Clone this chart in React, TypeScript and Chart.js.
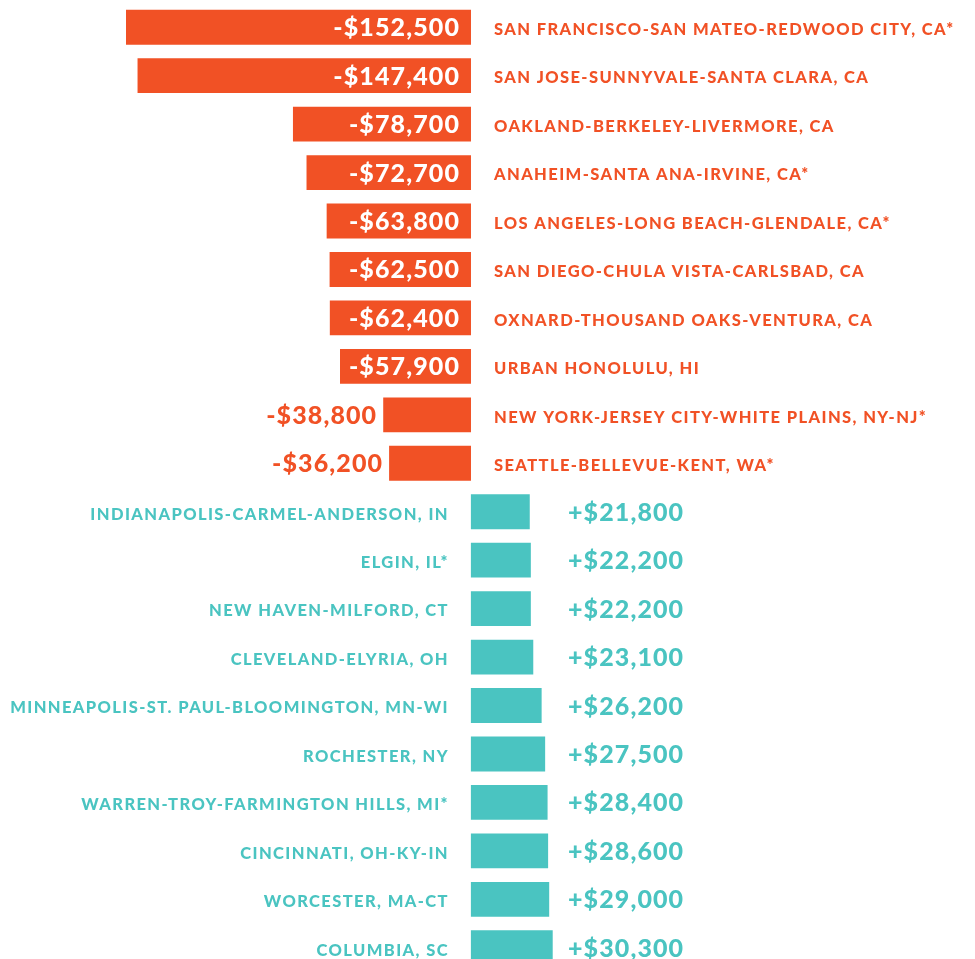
import React, { useEffect, useRef } from "react";
import { Chart, registerables } from "chart.js";

Chart.register(...registerables);

const categories = [
  "SAN FRANCISCO-SAN MATEO-REDWOOD CITY, CA*",
  "SAN JOSE-SUNNYVALE-SANTA CLARA, CA",
  "OAKLAND-BERKELEY-LIVERMORE, CA",
  "ANAHEIM-SANTA ANA-IRVINE, CA*",
  "LOS ANGELES-LONG BEACH-GLENDALE, CA*",
  "SAN DIEGO-CHULA VISTA-CARLSBAD, CA",
  "OXNARD-THOUSAND OAKS-VENTURA, CA",
  "URBAN HONOLULU, HI",
  "NEW YORK-JERSEY CITY-WHITE PLAINS, NY-NJ*",
  "SEATTLE-BELLEVUE-KENT, WA*",
  "INDIANAPOLIS-CARMEL-ANDERSON, IN",
  "ELGIN, IL*",
  "NEW HAVEN-MILFORD, CT",
  "CLEVELAND-ELYRIA, OH",
  "MINNEAPOLIS-ST. PAUL-BLOOMINGTON, MN-WI",
  "ROCHESTER, NY",
  "WARREN-TROY-FARMINGTON HILLS, MI*",
  "CINCINNATI, OH-KY-IN",
  "WORCESTER, MA-CT",
  "COLUMBIA, SC",
];

const values = [
  -152500, -147400, -78700, -72700, -63800, -62500, -62400, -57900, -38800, -36200,
  21800, 22200, 22200, 23100, 26200, 27500, 28400, 28600, 29000, 30300,
];

const negativeValues = values.map((v) => (v < 0 ? v : null));
const positiveValues = values.map((v) => (v > 0 ? v : null));

const ORANGE = "#F15125";
const TEAL = "#4AC4C1";
const FONT = "Lato, 'Open Sans', sans-serif";

function formatValue(v: number): string {
  return (v < 0 ? "-$" : "+$") + Math.abs(v).toLocaleString("en-US");
}

const labelPlugin = {
  id: "barLabels",
  afterDatasetsDraw(chart: any) {
    const ctx = chart.ctx as CanvasRenderingContext2D;
    const zeroX = chart.scales.x.getPixelForValue(0);
    ctx.save();
    ctx.textBaseline = "alphabetic";
    values.forEach((v, i) => {
      const dsIndex = v < 0 ? 0 : 1;
      const bar: any = chart.getDatasetMeta(dsIndex).data[i];
      if (!bar) return;
      const y = bar.y;
      const label = categories[i];
      const text = formatValue(v);
      // category label
      ctx.font = `900 16.5px ${FONT}`;
      (ctx as any).letterSpacing = "1.4px";
      if (v < 0) {
        ctx.fillStyle = ORANGE;
        ctx.textAlign = "left";
        ctx.fillText(label, zeroX + 23, y + 7.8);
      } else {
        ctx.fillStyle = TEAL;
        ctx.textAlign = "right";
        ctx.fillText(label, zeroX - 22, y + 7.8);
      }
      // value label
      ctx.font = `900 25px ${FONT}`;
      (ctx as any).letterSpacing = "1.1px";
      const w = ctx.measureText(text).width;
      if (v < 0) {
        const barLen = zeroX - bar.x;
        if (barLen > w + 12) {
          ctx.fillStyle = "#FFFFFF";
          ctx.textAlign = "right";
          ctx.fillText(text, zeroX - 11, y + 9);
        } else {
          ctx.fillStyle = ORANGE;
          ctx.textAlign = "right";
          ctx.fillText(text, bar.x - 6, y + 9);
        }
      } else {
        ctx.fillStyle = TEAL;
        ctx.textAlign = "left";
        ctx.fillText(text, zeroX + 97, y + 9);
      }
    });
    ctx.restore();
  },
};

export default function App() {
  const ref = useRef<HTMLCanvasElement | null>(null);
  useEffect(() => {
    if (!ref.current) return;
    const chart = new Chart(ref.current, {
      type: "bar",
      data: {
        labels: categories,
        datasets: [
          {
            data: negativeValues as any,
            backgroundColor: ORANGE,
            xAxisID: "x",
            grouped: false,
            barPercentage: 0.72,
            categoryPercentage: 1,
          } as any,
          {
            data: positiveValues as any,
            backgroundColor: TEAL,
            xAxisID: "x2",
            grouped: false,
            barPercentage: 0.72,
            categoryPercentage: 1,
          } as any,
        ],
      },
      options: {
        indexAxis: "y",
        responsive: false,
        animation: false,
        events: [],
        layout: { padding: { top: 3, bottom: 0, left: 0, right: 0 } },
        plugins: { legend: { display: false }, tooltip: { enabled: false } },
        scales: {
          x: { type: "linear", min: -208200, max: 222800, display: false },
          x2: { type: "linear", min: -174400, max: 186700, display: false },
          y: { type: "category", display: false },
        },
      },
      plugins: [labelPlugin],
    });
    return () => chart.destroy();
  }, []);
  return (
    <div style={{ position: "absolute", left: 0, top: 0, width: 975, height: 959, overflow: "hidden", background: "#fff" }}>
      <canvas ref={ref} width={975} height={972} style={{ display: "block" }} />
    </div>
  );
}
